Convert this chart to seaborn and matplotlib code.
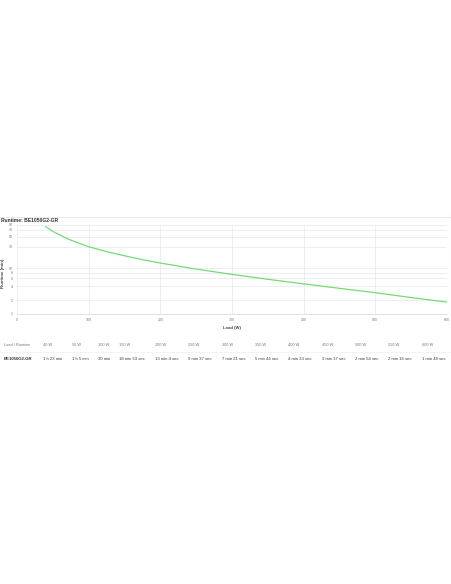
import numpy as np
import matplotlib
matplotlib.use("Agg")
import matplotlib.pyplot as plt
import seaborn as sns
import pandas as pd

# ---- Data ----
model = "BE1050G2-GR"
# runtime table columns
load_w = [40, 50, 100, 150, 200, 250, 300, 350, 400, 450, 500, 550, 600]
runtime_text = ["1 h 23 min", "1 h 5 min", "30 min", "18 min 53 sec", "13 min 4 sec",
                "9 min 37 sec", "7 min 21 sec", "5 min 44 sec", "4 min 33 sec",
                "3 min 37 sec", "2 min 54 sec", "2 min 16 sec", "1 min 48 sec"]
# curve points (table values plus a few)
curve_load = [40, 50, 60, 70, 80, 90, 100, 125, 150, 175, 200, 250, 300, 350, 400, 450, 500, 550, 600]
curve_min = [83.0, 65.0, 54.0, 45.0, 39.0, 34.0, 30.0, 23.3, 18.88, 15.5, 13.07, 9.62, 7.35,
             5.73, 4.55, 3.62, 2.9, 2.27, 1.8]
x_ticks = [0, 100, 200, 300, 400, 500, 600]
y_ticks = [1, 2, 4, 6, 8, 10, 30, 50, 70, 90]

df = pd.DataFrame({"Load": curve_load, "Runtime": curve_min})

sns.set_style("whitegrid")
plt.rcParams["font.family"] = ["Liberation Sans", "DejaVu Sans"]

fig = plt.figure(figsize=(4.52, 5.84), dpi=100)
W, H = 452, 584
ax = fig.add_axes([17 / W, 1 - 313.7 / H, 430 / W, 88.7 / H])

sns.lineplot(data=df, x="Load", y="Runtime", ax=ax, color="#72dc72", linewidth=0.9)

ax.set_yscale("log")
ax.set_ylim(1, 90)
ax.set_xlim(0, 600)
ax.set_xticks(x_ticks)
ax.set_yticks(y_ticks)
ax.set_yticklabels([str(t) for t in y_ticks])
ax.yaxis.set_minor_locator(matplotlib.ticker.NullLocator())
ax.tick_params(labelsize=2.6, colors="#777777", length=0, pad=3)
ax.grid(True, which="major", color="#e8e8e8", linewidth=0.5)
for s in ["top", "right", "left"]:
    ax.spines[s].set_visible(False)
ax.spines["bottom"].set_color("#dddddd")
ax.spines["bottom"].set_linewidth(0.6)
ax.set_xlabel("Load (W)", fontsize=3.1, fontweight="bold", color="#444444")
ax.xaxis.set_label_coords(0.5, (313.7 - 326) / 88.7)
ax.set_ylabel("Runtime (min)", fontsize=3.2, fontweight="bold", color="#444444")
ax.yaxis.set_label_coords((5 - 17) / 430, 0.45)

# title and separator
fig.text(1 / W, 1 - 220 / H, f"Runtime: {model}", fontsize=3.6, fontweight="bold",
         color="#333333", va="center", ha="left")
fig.add_artist(plt.Line2D([0, 1], [1 - 216.5 / H] * 2, color="#e6e6e6", linewidth=0.6))
fig.add_artist(plt.Line2D([451 / W] * 2, [1 - 212 / H, 1 - 322 / H], color="#d0d0d0", linewidth=0.8))

# ---- Runtime table ----
col_x = [43, 72, 98, 119, 155, 188, 222, 255, 288, 322, 355, 388, 422]
hdr_y = 1 - 344.5 / H
val_y = 1 - 359 / H
fig.text(4 / W, hdr_y, "Load / Runtime", fontsize=2.8, color="#777777", va="center")
fig.text(4 / W, val_y, model, fontsize=3.1, fontweight="bold", color="#333333", va="center")
for xp, lw, rt in zip(col_x, load_w, runtime_text):
    fig.text(xp / W, hdr_y, f"{lw} W", fontsize=2.8, color="#777777", va="center")
    fig.text(xp / W, val_y, rt, fontsize=3.1, color="#3a3a3a", va="center")
fig.add_artist(plt.Line2D([0, 1], [1 - 351.5 / H] * 2, color="#eeeeee", linewidth=0.5))

fig.savefig("out.png", dpi=100, facecolor="white")
